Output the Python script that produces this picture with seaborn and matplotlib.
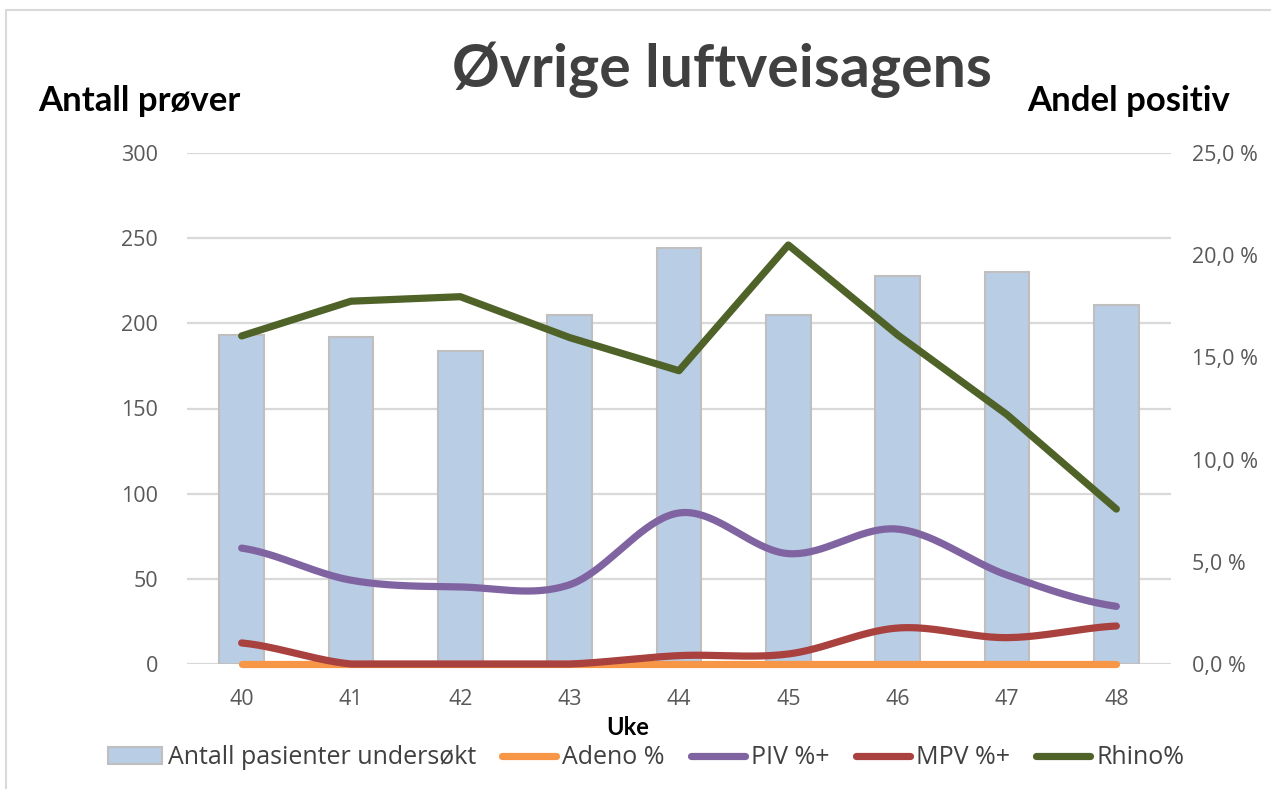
import numpy as np
import pandas as pd
import matplotlib
matplotlib.use("Agg")
import matplotlib.pyplot as plt
import seaborn as sns
from matplotlib.patches import Rectangle, Patch
from matplotlib.lines import Line2D

# ---- data ----
weeks = ["40", "41", "42", "43", "44", "45", "46", "47", "48"]
antall = [193, 192, 184, 205, 244, 205, 228, 230, 211]
adeno = [0, 0, 0, 0, 0, 0, 0, 0, 0]
piv = [5.67, 4.10, 3.77, 3.88, 7.39, 5.40, 6.60, 4.35, 2.82]
mpv = [1.03, 0.0, 0.0, 0.0, 0.41, 0.49, 1.76, 1.29, 1.86]
rhino = [16.05, 17.75, 17.97, 15.97, 14.35, 20.50, 16.10, 12.20, 7.58]

W, H = 1271, 789
sns.set_theme(style="white")
plt.rcParams["font.family"] = ["Open Sans", "DejaVu Sans"]

fig = plt.figure(figsize=(W / 100, H / 100), dpi=100)

def fx(px):
    return px / W

def fy(py):
    return 1 - py / H

# outer chart border
fig.patches.append(Rectangle((fx(6), fy(H + 5)), 1.2, fy(10) - fy(H + 5),
                             transform=fig.transFigure, fill=False,
                             edgecolor="#D9D9D9", linewidth=1.5))

left, right, top, bottom = 187, 1171, 153, 664
ax = fig.add_axes([fx(left), fy(bottom), fx(right) - fx(left), fy(top) - fy(bottom)])

GRID = "#D9D9D9"
TICK = "#595959"

df = pd.DataFrame({"Uke": weeks, "Antall": antall})
sns.barplot(data=df, x="Uke", y="Antall", ax=ax, color="#B9CDE5",
            edgecolor="#BFBFBF", linewidth=1.5, width=0.41, saturation=1)
ax.set_xlim(-0.5, len(weeks) - 0.5)
ax.set_ylim(0, 300)
ax.set_yticks([0, 50, 100, 150, 200, 250, 300])
ax.yaxis.grid(True, color=GRID, linewidth=1.6)
ax.set_axisbelow(True)
for s in ax.spines.values():
    s.set_visible(False)
ax.tick_params(axis="both", length=0, labelsize=15.5, labelcolor=TICK)
ax.tick_params(axis="y", pad=21)
ax.tick_params(axis="x", pad=18)
ax.set_xlabel("")
ax.set_ylabel("")

ax2 = ax.twinx()
ax2.set_ylim(0, 25)
ticks2 = [0, 5, 10, 15, 20, 25]
ax2.set_yticks(ticks2)
ax2.set_yticklabels([f"{t:.1f}".replace(".", ",") + " %" for t in ticks2])
ax2.tick_params(axis="y", length=0, labelsize=15.5, labelcolor=TICK, pad=15)
for s in ax2.spines.values():
    s.set_visible(False)
ax2.grid(False)


def smooth(vals, n=40):
    y = np.asarray(vals, float)
    p = np.concatenate([[y[0]], y, [y[-1]]])
    xs, ys = [], []
    for i in range(len(y) - 1):
        p0, p1, p2, p3 = p[i], p[i + 1], p[i + 2], p[i + 3]
        m1 = (p2 - p0) / 2
        m2 = (p3 - p1) / 2
        t = np.linspace(0, 1, n, endpoint=(i == len(y) - 2))
        h00 = 2 * t**3 - 3 * t**2 + 1
        h10 = t**3 - 2 * t**2 + t
        h01 = -2 * t**3 + 3 * t**2
        h11 = t**3 - t**2
        xs.append(i + t)
        ys.append(h00 * p1 + h10 * m1 + h01 * p2 + h11 * m2)
    return np.concatenate(xs), np.clip(np.concatenate(ys), 0, None)

LW = 5.2
COL = {"Adeno %": "#F79646", "PIV %+": "#8064A2", "MPV %+": "#A9413F", "Rhino%": "#4F6228"}
xpos = np.arange(len(weeks))

series = [
    ("Adeno %", xpos, np.asarray(adeno, float)),
    ("PIV %+",) + smooth(piv),
    ("MPV %+",) + smooth(mpv),
    ("Rhino%", xpos, np.asarray(rhino, float)),
]
for name, xs, ys in series:
    sns.lineplot(x=xs, y=ys, ax=ax2, color=COL[name], linewidth=LW,
                 sort=False, estimator=None, legend=False)
for ln in ax2.lines:
    ln.set_clip_on(False)
    ln.set_solid_capstyle("round")
    ln.set_solid_joinstyle("round")
ax2.set_xlim(-0.5, len(weeks) - 0.5)

# titles
BOLD = ["Lato", "DejaVu Sans"]
fig.text(fx(722), fy(70), "Øvrige luftveisagens", ha="center", va="center",
         fontsize=42.5, fontweight="bold", color="#404040", family=BOLD)
fig.text(fx(38), fy(111), "Antall prøver", ha="left", va="baseline",
         fontsize=25, fontweight="bold", color="black", family=BOLD)
fig.text(fx(1027), fy(111), "Andel positiv", ha="left", va="baseline",
         fontsize=25, fontweight="bold", color="black", family=BOLD)
fig.text(fx(628), fy(735), "Uke", ha="center", va="baseline",
         fontsize=17, fontweight="bold", color="black", family=BOLD)

handles = [Patch(facecolor="#B9CDE5", edgecolor="#BFBFBF", linewidth=1.5)]
labels = ["Antall pasienter undersøkt"]
for name in ["Adeno %", "PIV %+", "MPV %+", "Rhino%"]:
    handles.append(Line2D([0], [0], color=COL[name], linewidth=LW, solid_capstyle="round"))
    labels.append(name)
fig.legend(handles, labels, loc="center", bbox_to_anchor=(fx(646), fy(758)),
           ncol=5, frameon=False, fontsize=18, handlelength=2.15, handleheight=0.65,
           handletextpad=0.25, columnspacing=1.05, labelcolor="#404040")

fig.savefig("out.png", dpi=100, facecolor="white")
